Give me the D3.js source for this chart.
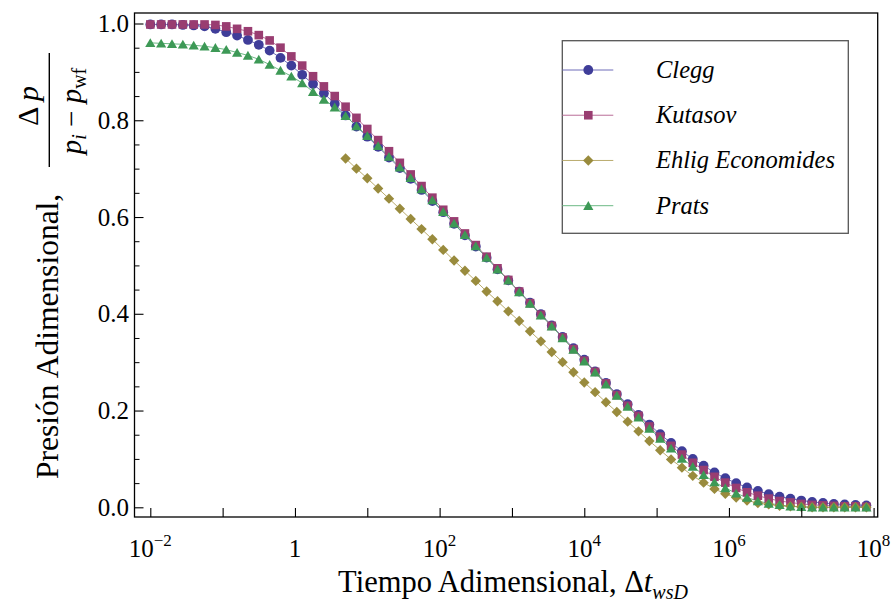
<!DOCTYPE html>
<html>
<head>
<meta charset="utf-8">
<script src="https://cdn.jsdelivr.net/npm/d3@7"></script>
<style>
  html, body { margin: 0; padding: 0; background: #fff; }
  svg { display: block; }
  text { font-family: "Liberation Serif", "DejaVu Serif", "Times New Roman", serif; fill: #000; }
</style>
</head>
<body>
<svg id="chart" width="891" height="606"></svg>
<script>
// ---- data (log10 of dimensionless time) ----
const tExp = [-2, -1.85, -1.7, -1.55, -1.4, -1.25, -1.1, -0.95, -0.8, -0.65, -0.5, -0.35, -0.2, -0.05,
  0.1, 0.25, 0.4, 0.55, 0.7, 0.85, 1.0, 1.15, 1.3, 1.45, 1.6, 1.75, 1.9, 2.05, 2.2, 2.35, 2.5, 2.65,
  2.8, 2.95, 3.1, 3.25, 3.4, 3.55, 3.7, 3.85, 4.0, 4.15, 4.3, 4.45, 4.6, 4.75, 4.9, 5.05, 5.2, 5.35,
  5.5, 5.65, 5.8, 5.95, 6.1, 6.25, 6.4, 6.55, 6.7, 6.85, 7.0, 7.15, 7.3, 7.45, 7.6, 7.75, 7.9];

const clegg = [0.998, 0.998, 0.998, 0.997, 0.996, 0.994, 0.989, 0.982, 0.975, 0.966, 0.956, 0.944,
  0.929, 0.913, 0.894, 0.875, 0.856, 0.834, 0.810, 0.787, 0.766, 0.745, 0.723, 0.701, 0.679, 0.656,
  0.633, 0.610, 0.586, 0.562, 0.539, 0.516, 0.492, 0.469, 0.446, 0.423, 0.399, 0.376, 0.352, 0.329,
  0.305, 0.281, 0.257, 0.234, 0.213, 0.191, 0.171, 0.151, 0.133, 0.116, 0.100, 0.086, 0.072, 0.060,
  0.050, 0.041, 0.034, 0.027, 0.022, 0.018, 0.014, 0.011, 0.009, 0.007, 0.006, 0.005, 0.004];

const kutasov = [0.998, 0.998, 0.998, 0.998, 0.998, 0.998, 0.997, 0.994, 0.989, 0.984, 0.976, 0.965,
  0.950, 0.932, 0.913, 0.891, 0.870, 0.850, 0.828, 0.805, 0.782, 0.759, 0.736, 0.712, 0.688, 0.664,
  0.640, 0.615, 0.591, 0.566, 0.542, 0.518, 0.494, 0.470, 0.446, 0.422, 0.398, 0.375, 0.351, 0.327,
  0.303, 0.280, 0.256, 0.232, 0.210, 0.189, 0.167, 0.146, 0.127, 0.109, 0.092, 0.077, 0.063, 0.051,
  0.040, 0.031, 0.024, 0.018, 0.013, 0.010, 0.007, 0.005, 0.004, 0.003, 0.002, 0.002, 0.001];

const ehlig = [null, null, null, null, null, null, null, null, null, null, null, null,
  null, null, null, null, null, null, 0.721, 0.700, 0.680, 0.659, 0.638, 0.617, 0.596, 0.575,
  0.554, 0.532, 0.510, 0.489, 0.468, 0.446, 0.426, 0.405, 0.385, 0.364, 0.343, 0.321, 0.300, 0.279,
  0.258, 0.238, 0.217, 0.197, 0.177, 0.157, 0.137, 0.118, 0.099, 0.082, 0.065, 0.051, 0.038, 0.028,
  0.020, 0.014, 0.009, 0.006, 0.003, 0.002, 0.001, 0.000, 0.000, 0.000, 0.000, 0.000, 0.000];

const prats = [0.960, 0.959, 0.958, 0.957, 0.955, 0.953, 0.950, 0.946, 0.940, 0.934, 0.926, 0.915,
  0.903, 0.891, 0.877, 0.859, 0.843, 0.827, 0.809, 0.788, 0.768, 0.747, 0.725, 0.703, 0.681, 0.658,
  0.635, 0.611, 0.587, 0.563, 0.540, 0.516, 0.492, 0.469, 0.445, 0.421, 0.397, 0.374, 0.350, 0.326,
  0.302, 0.279, 0.254, 0.231, 0.208, 0.186, 0.163, 0.142, 0.122, 0.101, 0.084, 0.067, 0.052, 0.040,
  0.029, 0.020, 0.013, 0.008, 0.005, 0.002, 0.001, 0.000, 0.000, 0.000, 0.000, 0.000, 0.000];

const seriesNames = ["Clegg", "Kutasov", "Ehlig Economides", "Prats"];
const seriesValues = [clegg, kutasov, ehlig, prats];
const seriesColors = ["#3f3d99", "#993d71", "#998b3d", "#3d9956"];
const seriesLineColors = ["#6f6db9", "#b96d97", "#b9ab6d", "#6db985"];
const seriesSymbols = ["circle", "square", "diamond", "triangle"];

const xTickExps = [-2, -1, 0, 1, 2, 3, 4, 5, 6, 7, 8];
const xLabelExps = [-2, 0, 2, 4, 6, 8];
const yMajorTicks = [0, 0.2, 0.4, 0.6, 0.8, 1.0];
const yMinorTicks = [0.05, 0.1, 0.15, 0.25, 0.3, 0.35, 0.45, 0.5, 0.55, 0.65, 0.7, 0.75, 0.85, 0.9, 0.95];

// ---- layout ----
const FONT = '"Liberation Serif", "DejaVu Serif", "Times New Roman", serif';
const frame = { left: 134.5, right: 877.7, top: 13, bottom: 517 };
const svg = d3.select("#chart");
svg.append("rect").attr("width", 891).attr("height", 606).attr("fill", "#fff");

const x = d3.scaleLog().domain([1e-2, 1e8]).range([150.3, 873.6]);
const y = d3.scaleLinear().domain([0, 1]).range([507.3, 23.5]);

// ---- series lines ----
const lineGen = d3.line()
  .defined(d => d.v !== null)
  .x(d => x(Math.pow(10, d.e)))
  .y(d => y(d.v));

const seriesData = seriesValues.map(vals => tExp.map((e, i) => ({ e, v: vals[i] })));

const plotG = svg.append("g");
seriesData.forEach((data, si) => {
  plotG.append("path")
    .datum(data)
    .attr("fill", "none")
    .attr("stroke", seriesLineColors[si])
    .attr("stroke-width", 1)
    .attr("d", lineGen);
});

// ---- markers ----
function drawMarker(sel, kind, color) {
  if (kind === "circle") {
    sel.append("circle").attr("r", 4.9).attr("fill", color);
  } else if (kind === "square") {
    sel.append("rect").attr("x", -4.3).attr("y", -4.3).attr("width", 8.6).attr("height", 8.6).attr("fill", color);
  } else if (kind === "diamond") {
    sel.append("path").attr("d", "M0,-5.2L5.2,0L0,5.2L-5.2,0Z").attr("fill", color);
  } else if (kind === "triangle") {
    sel.append("path").attr("d", "M0,-4.6L5.1,4.2L-5.1,4.2Z").attr("fill", color);
  }
}

seriesData.forEach((data, si) => {
  const g = plotG.append("g");
  g.selectAll("g.m")
    .data(data.filter(d => d.v !== null))
    .join("g")
    .attr("class", "m")
    .attr("transform", d => `translate(${x(Math.pow(10, d.e))},${y(d.v)})`)
    .each(function () { drawMarker(d3.select(this), seriesSymbols[si], seriesColors[si]); });
});

// ---- frame ----
svg.append("rect")
  .attr("x", frame.left).attr("y", frame.top)
  .attr("width", frame.right - frame.left).attr("height", frame.bottom - frame.top)
  .attr("fill", "none").attr("stroke", "#000").attr("stroke-width", 1.3);

// ---- axes ----
const xAxisG = svg.append("g").attr("transform", `translate(0,${frame.bottom})`)
  .call(d3.axisBottom(x).tickValues(xTickExps.map(e => Math.pow(10, e))).tickSize(-9).tickFormat(""));
xAxisG.select(".domain").remove();
xAxisG.selectAll(".tick line").attr("stroke", "#000").attr("stroke-width", 1.1);

const xLab = svg.append("g");
xLabelExps.forEach(e => {
  const t = xLab.append("text")
    .attr("x", x(Math.pow(10, e)))
    .attr("y", 557)
    .attr("text-anchor", "middle")
    .attr("font-family", FONT)
    .attr("font-size", 25);
  if (e === 0) {
    t.text("1");
  } else {
    t.append("tspan").text("10");
    t.append("tspan").attr("dy", -11).attr("font-size", 17).text(e < 0 ? "\u2212" + Math.abs(e) : String(e));
  }
});

const yAxisG = svg.append("g").attr("transform", `translate(${frame.left},0)`)
  .call(d3.axisLeft(y).tickValues(yMajorTicks).tickSize(-9).tickPadding(5.5).tickFormat(d3.format(".1f")));
yAxisG.select(".domain").remove();
yAxisG.attr("font-family", FONT);
yAxisG.selectAll(".tick line").attr("stroke", "#000").attr("stroke-width", 1.1);
yAxisG.selectAll(".tick text")
  .attr("font-family", FONT)
  .attr("font-size", 25).attr("fill", "#000");

const yMinorG = svg.append("g").attr("transform", `translate(${frame.left},0)`)
  .call(d3.axisLeft(y).tickValues(yMinorTicks).tickSize(-5).tickFormat(""));
yMinorG.select(".domain").remove();
yMinorG.selectAll(".tick line").attr("stroke", "#000").attr("stroke-width", 1);

// ---- axis titles ----
const xt = svg.append("text")
  .attr("x", 513).attr("y", 592)
  .attr("text-anchor", "middle").attr("font-family", FONT).attr("font-size", 30.5);
xt.append("tspan").text("Tiempo Adimensional, \u0394");
xt.append("tspan").attr("font-style", "italic").text("t");
xt.append("tspan").attr("font-style", "italic").attr("font-size", 20).attr("dy", 7).text("wsD");

const yt = svg.append("g").attr("transform", "rotate(-90)").attr("font-family", FONT);
yt.append("text")
  .attr("x", -479).attr("y", 58)
  .attr("font-size", 31.5)
  .text("Presi\u00f3n Adimensional,");
// fraction
yt.append("line")
  .attr("x1", -167).attr("x2", -53).attr("y1", 49.3).attr("y2", 49.3)
  .attr("stroke", "#000").attr("stroke-width", 1.4);
const num = yt.append("text").attr("x", -106).attr("y", 38).attr("text-anchor", "middle").attr("font-size", 30);
num.append("tspan").text("\u0394 ");
num.append("tspan").attr("font-style", "italic").text("p");
const den = yt.append("text").attr("x", -111).attr("y", 81).attr("text-anchor", "middle").attr("font-size", 29);
den.append("tspan").attr("font-style", "italic").text("p");
den.append("tspan").attr("font-style", "italic").attr("font-size", 20).attr("dy", 5).text("i");
den.append("tspan").attr("dy", -5).text(" \u2212 ");
den.append("tspan").attr("font-style", "italic").text("p");
den.append("tspan").attr("font-size", 20).attr("dy", 5).text("wf");

// ---- legend ----
const legend = svg.append("g").attr("font-family", FONT);
legend.append("rect")
  .attr("x", 562.3).attr("y", 40.7).attr("width", 286).attr("height", 192.6)
  .attr("fill", "#fff").attr("stroke", "#555").attr("stroke-width", 1.3);
const rowY = d3.scalePoint().domain(seriesNames).range([70, 205.7]);
seriesNames.forEach((name, si) => {
  const cy = rowY(name);
  legend.append("line").attr("x1", 562.3).attr("x2", 613.3).attr("y1", cy).attr("y2", cy)
    .attr("stroke", seriesLineColors[si]).attr("stroke-width", 1);
  const mg = legend.append("g").attr("transform", `translate(588.3,${cy})`);
  drawMarker(mg, seriesSymbols[si], seriesColors[si]);
  legend.append("text").attr("x", 656).attr("y", cy).attr("dy", "0.32em")
    .attr("font-family", FONT)
    .attr("font-size", 24.5).attr("font-style", "italic").text(name);
});
</script>
</body>
</html>
